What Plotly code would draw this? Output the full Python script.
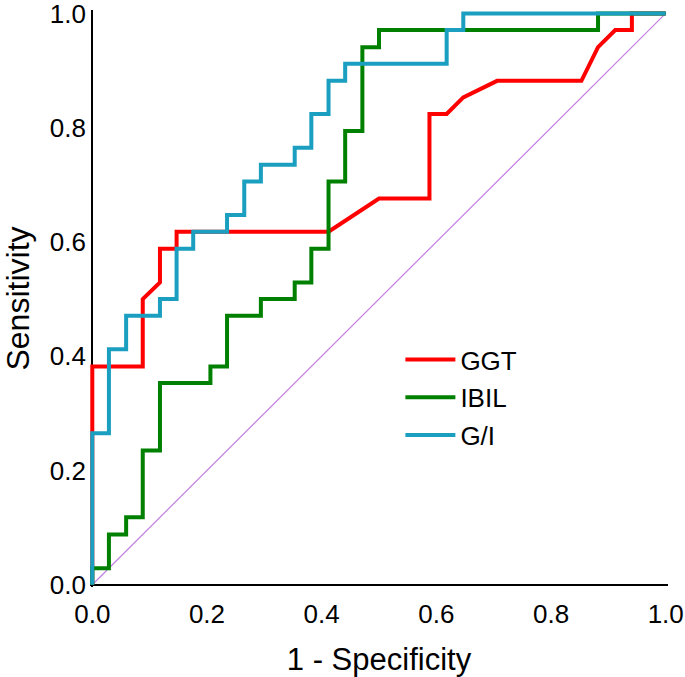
import plotly.graph_objects as go

# ROC curve vertices (1 - specificity, sensitivity)
ggt_fpr = [0, 0, 0.088, 0.088, 0.118, 0.118, 0.147, 0.147, 0.412, 0.5, 0.588,
           0.588, 0.618, 0.647, 0.706, 0.853, 0.882, 0.912, 0.941, 0.941, 1.0]
ggt_tpr = [0, 0.382, 0.382, 0.5, 0.529, 0.588, 0.588, 0.618, 0.618, 0.676, 0.676,
           0.824, 0.824, 0.853, 0.882, 0.882, 0.941, 0.971, 0.971, 1.0, 1.0]

ibil_fpr = [0, 0, 0.029, 0.029, 0.059, 0.059, 0.088, 0.088, 0.118, 0.118, 0.206,
            0.206, 0.235, 0.235, 0.294, 0.294, 0.353, 0.353, 0.382, 0.382, 0.412,
            0.412, 0.441, 0.441, 0.471, 0.471, 0.5, 0.5, 0.882, 0.882, 1.0]
ibil_tpr = [0, 0.029, 0.029, 0.088, 0.088, 0.118, 0.118, 0.235, 0.235, 0.353, 0.353,
            0.382, 0.382, 0.471, 0.471, 0.5, 0.5, 0.529, 0.529, 0.588, 0.588,
            0.706, 0.706, 0.794, 0.794, 0.941, 0.941, 0.971, 0.971, 1.0, 1.0]

gi_fpr = [0, 0, 0.029, 0.029, 0.059, 0.059, 0.118, 0.118, 0.147, 0.147, 0.176,
          0.176, 0.235, 0.235, 0.265, 0.265, 0.294, 0.294, 0.353, 0.353, 0.382,
          0.382, 0.412, 0.412, 0.441, 0.441, 0.618, 0.618, 0.647, 0.647, 1.0]
gi_tpr = [0, 0.265, 0.265, 0.412, 0.412, 0.471, 0.471, 0.5, 0.5, 0.588, 0.588,
          0.618, 0.618, 0.647, 0.647, 0.706, 0.706, 0.735, 0.735, 0.765, 0.765,
          0.824, 0.824, 0.882, 0.882, 0.912, 0.912, 0.971, 0.971, 1.0, 1.0]

ref_line = [0, 1]
tick_vals = [0, 0.2, 0.4, 0.6, 0.8, 1.0]
tick_text = ["0.0", "0.2", "0.4", "0.6", "0.8", "1.0"]

FONT = "Liberation Sans, Arial, sans-serif"

fig = go.Figure()

# diagonale de référence
fig.add_trace(go.Scatter(x=ref_line, y=ref_line, mode="lines",
                         line=dict(color="#c47fe2", width=1.2), showlegend=False,
                         hoverinfo="skip"))

curves = [
    ("GGT", ggt_fpr, ggt_tpr, "#ff0000"),
    ("IBIL", ibil_fpr, ibil_tpr, "#008000"),
    ("G/I", gi_fpr, gi_tpr, "#1a9fc0"),
]
for name, fpr, tpr, color in curves:
    fig.add_trace(go.Scatter(x=fpr, y=tpr, mode="lines", name=name, legendgroup=name,
                             line=dict(color=color, width=4)))

axis_common = dict(
    tickvals=tick_vals, ticktext=tick_text, showgrid=False, showline=False,
    zeroline=True, zerolinecolor="black", zerolinewidth=1.5,
    ticks="", tickfont=dict(size=26, color="black", family=FONT),
    automargin=False, ticklabeloverflow="allow",
)
fig.update_xaxes(range=[-0.004, 1.004], ticklabelstandoff=9,
                 title=dict(text="1 - Specificity", font=dict(size=31, color="black", family=FONT),
                            standoff=22),
                 **axis_common)
fig.update_yaxes(range=[-0.004, 1.006], ticklabelstandoff=3,
                 title=dict(text="Sensitivity", font=dict(size=32, color="black", family=FONT),
                            standoff=18),
                 **axis_common)

fig.update_layout(
    width=685, height=677,
    margin=dict(l=90, r=17, t=10, b=90),
    plot_bgcolor="white", paper_bgcolor="white",
    legend=dict(x=0.537, y=0.435, xanchor="left", yanchor="top",
                font=dict(size=26, color="black", family=FONT),
                bgcolor="rgba(0,0,0,0)", itemwidth=50, tracegroupgap=1),
)

# la page ne doit pas décaler la figure (marge par défaut du body)
fig.write_html("out.html", config={"displayModeBar": False},
               post_script="document.body.style.margin='0';")
